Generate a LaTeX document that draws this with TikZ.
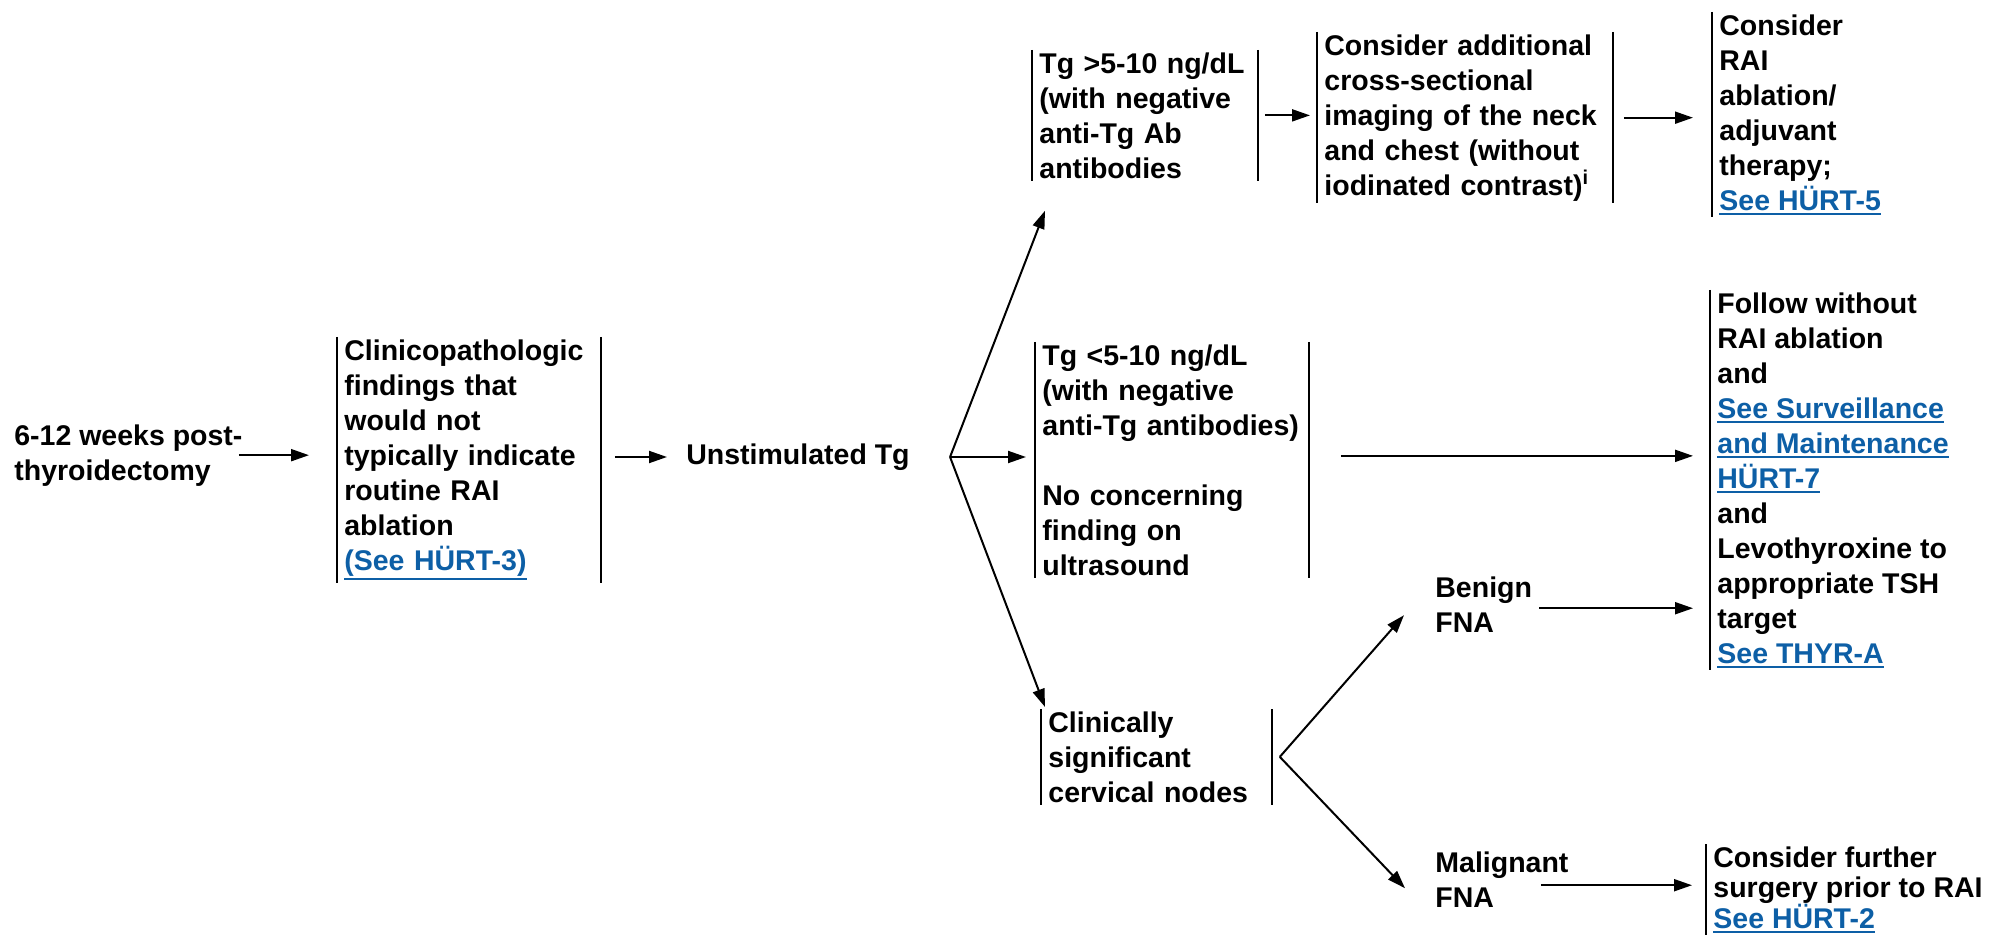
\documentclass[tikz,border=0pt]{standalone}
\usepackage{fontspec}
\setmainfont{Liberation Sans}
\usetikzlibrary{arrows.meta,calc}
\definecolor{linkblue}{HTML}{0D5FA6}
\newcommand\fsn{\fontsize{14.25pt}{17.5pt}\selectfont\bfseries}
\newcommand\fst{\fontsize{14.25pt}{15.25pt}\selectfont\bfseries}
\newsavebox{\lnkbox}
% blue underlined cross-reference
\newcommand\lnk[1]{\leavevmode{\color{linkblue}\sbox\lnkbox{#1}\rlap{\rule[\dimexpr-\dp\lnkbox-2.2pt\relax]{\wd\lnkbox}{1.1pt}}\usebox\lnkbox}}
\tikzset{
  txt/.style={font=\fsn, align=left, inner xsep=3.5pt, inner ysep=1pt},
  barline/.style={draw, line width=1.3pt},
  twobar/.style={append after command={(\tikzlastnode.north west) edge[barline] (\tikzlastnode.south west)
                                       (\tikzlastnode.north east) edge[barline] (\tikzlastnode.south east)}},
  onebar/.style={append after command={(\tikzlastnode.north west) edge[barline] (\tikzlastnode.south west)}},
  arr/.style={line width=1pt, -{Triangle[length=9pt,width=6pt]}},
}
\begin{document}
\begin{tikzpicture}[x=0.5pt, y=-0.5pt]
\useasboundingbox (0,0) rectangle (1993,936);

% steps of the pathway
\node[txt, anchor=north west] (post) at (7,422) {6-12 weeks post-\\thyroidectomy};
\node[txt, twobar, text width=124.5pt, anchor=north west] (clinpath) at (337,337)
  {Clinicopathologic\\findings that\\would not\\typically indicate\\routine RAI\\ablation\\\lnk{(See HÜRT-3)}};
\node[txt, anchor=west] (unstim) at (679,457) {Unstimulated Tg};

\node[txt, twobar, text width=105.5pt, anchor=north west] (tghigh) at (1032,50)
  {Tg >5-10 ng/dL\\(with negative\\anti-Tg Ab\\antibodies};
\node[txt, twobar, text width=140.5pt, anchor=north west] (imaging) at (1317,32)
  {Consider additional\\cross-sectional\\imaging of the neck\\and chest (without\\iodinated contrast)\textsuperscript{i}};
\node[txt, onebar, anchor=north west] (rai) at (1712,12)
  {Consider\\RAI\\ablation/\\adjuvant\\therapy;\\\lnk{See HÜRT-5}};

\node[txt, twobar, text width=129.5pt, anchor=north west] (tglow) at (1035,342)
  {Tg <5-10 ng/dL\\(with negative\\anti-Tg antibodies)\\[17.5pt]No concerning\\finding on\\ultrasound};
\node[txt, onebar, anchor=north west] (follow) at (1710,290)
  {Follow without\\RAI ablation\\and\\\lnk{See Surveillance}\\\lnk{and Maintenance}\\\lnk{HÜRT-7}\\and\\Levothyroxine to\\appropriate TSH\\target\\\lnk{See THYR-A}};

\node[txt, twobar, text width=108pt, anchor=north west] (nodes) at (1041,709)
  {Clinically\\significant\\cervical nodes};
\node[txt, anchor=north west] (benign) at (1428,574) {Benign\\FNA};
\node[txt, anchor=north west] (malig) at (1428,849) {Malignant\\FNA};
\node[txt, font=\fst, onebar, anchor=north west] (further) at (1706,844)
  {Consider further\\surgery prior to RAI\\\lnk{See HÜRT-2}};

% connectors
\draw[arr, shorten >=14pt] ([xshift=-5.5pt]post.east) -- (post.east -| clinpath.west);
\draw[arr, shorten <=7pt, shorten >=6pt] (clinpath.east |- unstim.west) -- (unstim.west);

\coordinate (fork1) at ([xshift=16.5pt]unstim.east);
\draw[arr] (fork1) -- ([shift={(13,30)}]tghigh.south west);
\draw[arr, shorten >=4.5pt] (fork1) -- (fork1 -| tglow.west);
\draw[arr] (fork1) -- ([shift={(4,-2)}]nodes.north west);

\draw[arr, shorten <=3.5pt, shorten >=3.5pt] (tghigh.east) -- (tghigh.east -| imaging.west);
\draw[arr, shorten <=5.5pt, shorten >=9.5pt] (imaging.east) -- (imaging.east -| rai.west);

\coordinate (lowout) at ([yshift=2pt]tglow.east);
\draw[arr, shorten <=16pt, shorten >=8.5pt] (lowout) -- (lowout -| follow.west);

\coordinate (fork2) at ([xshift=4pt]nodes.east);
\draw[arr] (fork2) -- ([shift={(-24,11)}]benign.west);
\draw[arr] (fork2) -- ([shift={(-23,9)}]malig.west);

\coordinate (benout) at ([yshift=-2pt]benign.east);
\draw[arr, shorten >=8.5pt] (benout) -- (benout -| follow.west);
\coordinate (malout) at ([shift={(-35,6)}]malig.east);
\draw[arr, shorten >=7pt] (malout) -- (malout -| further.west);
\end{tikzpicture}
\end{document}
